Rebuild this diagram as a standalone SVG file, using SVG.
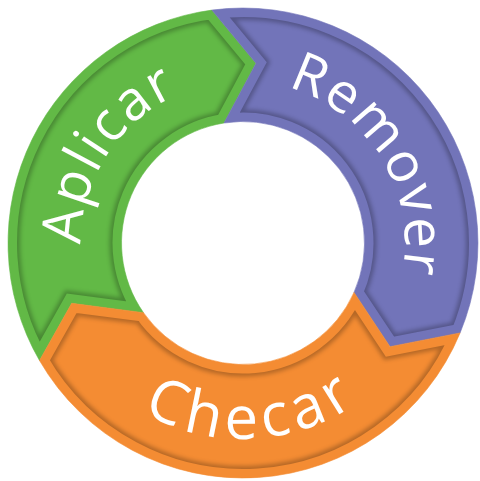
<svg xmlns="http://www.w3.org/2000/svg" width="480" height="481" viewBox="0 0 480 481">
<style>
 .lbl{font-family:"Open Sans","Liberation Sans",sans-serif;fill:#fff;}
 .shade{fill:none;stroke:#000;stroke-opacity:0.26;stroke-width:24;stroke-linejoin:miter;}
 .cut{fill:#fff;stroke:#000;stroke-width:18;stroke-linejoin:miter;}
</style>
<defs>
 <path id="pG" d="M39.5,360.5 A235,235 0 0 1 211.9,10.1 L256,63.3 L224,123 A121.5,121.5 0 0 0 143.5,312.7 L71.7,303.3 Z"/>
 <path id="pP" d="M211.9,10.1 A235,235 0 0 1 460.1,332.9 L390,346.7 L354,292.4 A121.5,121.5 0 0 0 224,123 L256,63.3 Z"/>
 <path id="pO" d="M460.1,332.9 A235,235 0 0 1 39.5,360.5 L71.7,303.3 L143.5,312.7 A121.5,121.5 0 0 0 354,292.4 L390,346.7 Z"/>
 <mask id="mG" maskUnits="userSpaceOnUse" x="0" y="0" width="480" height="481"><use href="#pG" class="cut"/></mask>
 <mask id="mP" maskUnits="userSpaceOnUse" x="0" y="0" width="480" height="481"><use href="#pP" class="cut"/></mask>
 <mask id="mO" maskUnits="userSpaceOnUse" x="0" y="0" width="480" height="481"><use href="#pO" class="cut"/></mask>
 <filter id="blur" filterUnits="userSpaceOnUse" x="0" y="0" width="480" height="481"><feGaussianBlur stdDeviation="2"/></filter>
 <path id="tA" d="M98.7,316.5 A162,162 0 0 1 251.5,81.2"/>
 <path id="tR" d="M238.8,81.1 A162,162 0 0 1 385.4,320.3"/>
 <path id="tC" d="M77.8,350.3 A198,198 0 0 0 418.5,332.4"/>
</defs>
<g id="aplicar">
 <use href="#pG" fill="#62B946" stroke="#62B946" stroke-width="0.6"/>
 <use href="#pG" class="shade" filter="url(#blur)" mask="url(#mG)"/>
 <text class="lbl" font-size="55" letter-spacing="2"><textPath href="#tA" startOffset="50%" text-anchor="middle">Aplicar</textPath></text>
</g>
<g id="remover">
 <use href="#pP" fill="#7274B9" stroke="#7274B9" stroke-width="0.6"/>
 <use href="#pP" class="shade" filter="url(#blur)" mask="url(#mP)"/>
 <text class="lbl" font-size="55" letter-spacing="1.5"><textPath href="#tR" startOffset="50%" text-anchor="middle">Remover</textPath></text>
</g>
<g id="checar">
 <use href="#pO" fill="#F48C33" stroke="#F48C33" stroke-width="0.6"/>
 <use href="#pO" class="shade" filter="url(#blur)" mask="url(#mO)"/>
 <text class="lbl" font-size="60" letter-spacing="6"><textPath href="#tC" startOffset="50%" text-anchor="middle">Checar</textPath></text>
</g>
</svg>
